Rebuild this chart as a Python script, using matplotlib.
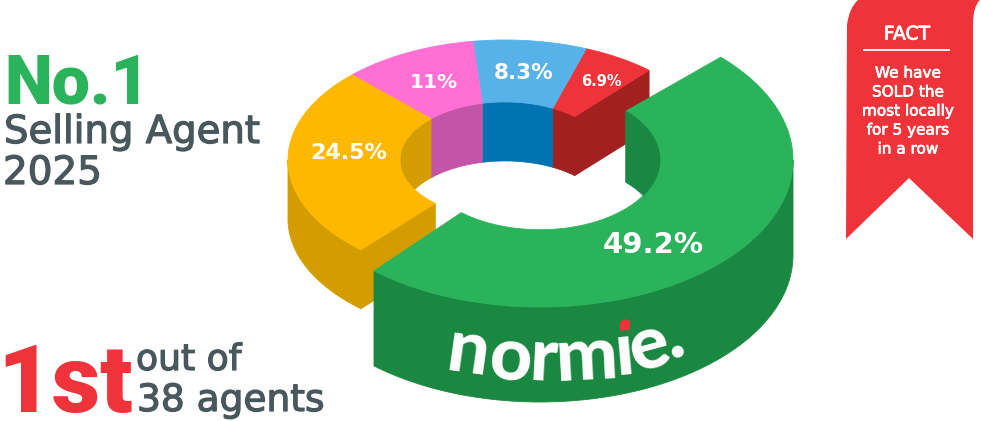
import numpy as np
import matplotlib
matplotlib.use('Agg')
import matplotlib.pyplot as plt
import matplotlib.patheffects as pe
from matplotlib.patches import Polygon, PathPatch
from matplotlib.path import Path

# slices, going anticlockwise from the green one's far end
categories = ['Normie', 'Red', 'Blue', 'Pink', 'Orange']
pct_labels = ['49.2%', '6.9%', '8.3%', '11%', '24.5%']
# angular size of each slice (degrees)
slice_degrees = [175.4, 19.6, 30.5, 36.3, 93.6]

top_colors = ['#2BB35B', '#EE343A', '#56B2E8', '#FF6FD4', '#FFB800']
wall_colors = ['#1A8840', '#A32020', '#0073B3', '#C355A8', '#D39D00']

GREY = '#48585C'
RED = '#EE343A'
GREEN = '#2BB35B'
FONT = 'DejaVu Sans'
HEAVY = 'Roboto'

# main ring and the pulled out green slice
CX, CY, A_OUT, A_IN, SQUASH, DEPTH = 505, 160, 217, 105, 0.553, 59
GX, GY, GA_OUT, GA_IN, GSQUASH, GDEPTH, GWALL = 540, 160, 253, 120, 0.581, 95, 71
G_START = 229


def arc(cx, cy, a, squash, t0, t1, drop=0):
    t = np.radians(np.linspace(t0, t1, 80))
    return np.column_stack([cx + a * np.cos(t), cy - a * squash * np.sin(t) + drop])


def solid(pts, color):
    ax.add_patch(Polygon(pts, closed=True, fc=color, ec=color, lw=0.6))


def label(x, y, s, color, size, weight='normal', family=FONT, stroke=0, **kw):
    t = ax.text(x, y, s, color=color, fontsize=size, fontweight=weight, family=family, **kw)
    if stroke:
        t.set_path_effects([pe.withStroke(linewidth=stroke, foreground=color)])
    return t


fig = plt.figure(figsize=(9.81, 4.21), dpi=100)
ax = fig.add_axes([0, 0, 1, 1])
ax.set_xlim(0, 981)
ax.set_ylim(421, 0)
ax.axis('off')

g_end = G_START + slice_degrees[0]

# edges of the small slices on the outer rim, the inner rim leans a little
outer_edges = [g_end - 360 + 4]
for d in slice_degrees[1:]:
    outer_edges.append(outer_edges[-1] + d)
inner_edges = [e + s for e, s in zip(outer_edges, [0, -5, 4, 0, 0])]

# inner walls seen through the hole
for i in range(1, 5):
    lo, hi = inner_edges[i - 1], inner_edges[i]
    if i == 4:
        # wall ends where it dips under the front edge of the hole
        hi = 180 + np.degrees(np.arcsin(DEPTH / (2 * A_IN * SQUASH)))
    solid(np.vstack([arc(CX, CY, A_IN, SQUASH, lo, hi),
                     arc(CX, CY, A_IN, SQUASH, hi, lo, DEPTH)]), wall_colors[i])

# cut faces of red and orange
for t_in, t_out, col in [(inner_edges[0], outer_edges[0], wall_colors[1]),
                         (inner_edges[4], outer_edges[4], wall_colors[4])]:
    p_in = arc(CX, CY, A_IN, SQUASH, t_in, t_in)[0]
    p_out = arc(CX, CY, A_OUT, SQUASH, t_out, t_out)[0]
    solid([p_in, p_out, p_out + [0, DEPTH], p_in + [0, DEPTH]], col)

# orange outer wall
solid(np.vstack([arc(CX, CY, A_OUT, SQUASH, 180, outer_edges[4]),
                 arc(CX, CY, A_OUT, SQUASH, outer_edges[4], 180, DEPTH)]), wall_colors[4])

# top faces of the small slices
for i in range(1, 5):
    solid(np.vstack([arc(CX, CY, A_OUT, SQUASH, outer_edges[i - 1], outer_edges[i]),
                     arc(CX, CY, A_IN, SQUASH, inner_edges[i], inner_edges[i - 1])]), top_colors[i])

# green slice: outer wall, top, inner wall
solid(np.vstack([arc(GX, GY, GA_OUT, GSQUASH, G_START, 360),
                 arc(GX, GY, GA_OUT, GSQUASH, 360, G_START, GDEPTH)]), wall_colors[0])
solid(np.vstack([arc(GX, GY, GA_OUT, GSQUASH, G_START, g_end),
                 arc(GX, GY, GA_IN, GSQUASH, g_end, G_START)]), top_colors[0])
meet = np.degrees(np.arcsin(GWALL / (2 * GA_IN * GSQUASH)))
solid(np.vstack([arc(GX, GY, GA_IN, GSQUASH, g_end, 360 - meet),
                 arc(GX, GY, GA_IN, GSQUASH, 360 + meet, g_end, GWALL)]), wall_colors[0])

# percentage labels
label_x = [653, 601, 524, 434, 349]
label_y = [245, 81, 73, 83, 153]
label_size = [21, 10.5, 15.5, 14.5, 16]
for s, x, y, fs in zip(pct_labels, label_x, label_y, label_size):
    label(x, y, s, 'white', fs, weight='bold', ha='center', va='center')

# normie logo on the green wall, letters follow the curve
logo_letters = ['n', 'o', 'r', 'm', '\u0131', 'e', '.']
logo_x = [465, 509, 543, 588, 626, 655, 679]
logo_y = [373, 380, 381, 379, 374, 367, 357]
logo_rot = [-8, -5, -3, 3, 5, 15, 20]
for s, x, y, r in zip(logo_letters, logo_x, logo_y, logo_rot):
    label(x, y, s, 'white', 53, weight='black', family='Lato', ha='center', va='baseline',
          rotation=r, rotation_mode='anchor')
ax.add_patch(Polygon([(620, 331), (620, 322), (625, 319), (630, 321), (630, 330)], closed=True,
                     fc=RED, ec='none'))

# ribbon
codes = [Path.MOVETO, Path.LINETO, Path.CURVE3, Path.CURVE3, Path.LINETO, Path.CURVE3, Path.CURVE3,
         Path.LINETO, Path.LINETO, Path.LINETO, Path.CLOSEPOLY]
verts = [(846, 239), (847, 25), (849, 8), (858, 0), (980, 0), (973, 6), (973, 25),
         (973, 239), (909, 178), (846, 239), (846, 239)]
ax.add_patch(PathPatch(Path(verts, codes), fc=RED, ec='none'))
label(907, 34, 'FACT', 'white', 13.5, ha='center', va='center', stroke=0.6)
ax.plot([863, 950], [49.5, 49.5], color='white', lw=1.3, solid_capstyle='butt')
ribbon_lines = ['We have', 'SOLD the', 'most locally', 'for 5 years', 'in a row']
ribbon_y = [73, 92, 111, 130, 149]
for s, y in zip(ribbon_lines, ribbon_y):
    label(908, y, s, 'white', 11, ha='center', va='center', stroke=0.5)

# left hand text
label(4, 103, 'No.1', GREEN, 49, weight='black', family=HEAVY, va='baseline')
label(4, 143, 'Selling Agent', GREY, 27.8, va='baseline', stroke=0.9)
label(3, 184, '2025', GREY, 28, va='baseline', stroke=0.9)
label(-3, 412, '1st', RED, 68, weight='black', family=HEAVY, va='baseline')
label(136, 370, 'out of', GREY, 26, va='baseline', stroke=0.9)
label(137, 411, '38 agents', GREY, 27, va='baseline', stroke=0.9)

plt.savefig('out.png', dpi=100, facecolor='white')
